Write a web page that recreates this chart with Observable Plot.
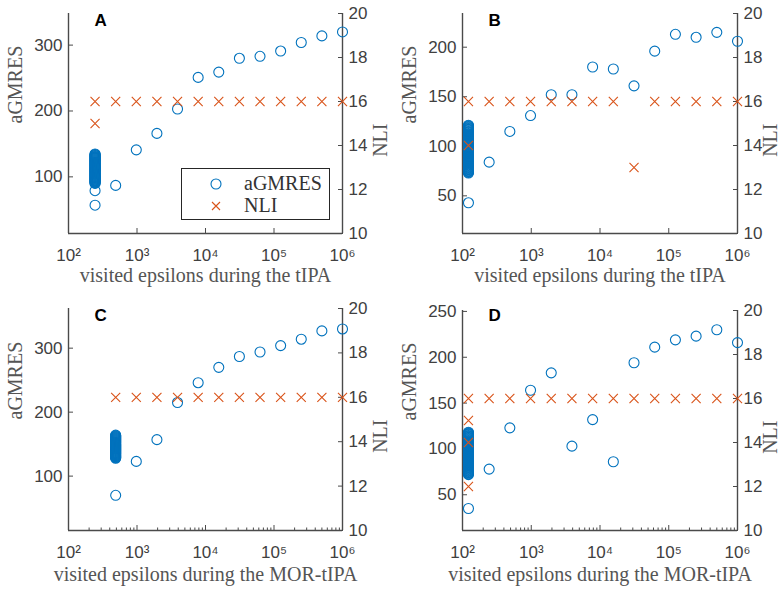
<!DOCTYPE html>
<html><head><meta charset="utf-8">
<script src="https://cdn.jsdelivr.net/npm/d3@7"></script>
<script src="https://cdn.jsdelivr.net/npm/@observablehq/plot@0.6"></script>
<style>
body{margin:0;background:#fff;}
#root{position:relative;width:780px;height:590px;overflow:hidden;background:#fff;}
.layer{position:absolute;}
.legend{position:absolute;border:1px solid #262626;background:#fff;}
</style></head><body><div id="root"></div>
<script>
// ---- data ----
const epsA = [244.140625, 488.28125, 976.5625, 1953.125, 3906.25, 7812.5, 15625, 31250, 62500, 125000, 250000, 500000, 1000000];
const clusterA = [57, 79, 90, 90.8, 91.6, 92.4, 93.2, 94, 94.8, 95.6, 96.4, 97.2, 98, 98.8, 99.6, 100.4, 101.2, 102, 102.8, 103.6, 104.4, 105.2, 106, 106.8, 107.6, 108.4, 109.2, 110, 110.8, 111.6, 112.4, 113.2, 114, 114.8, 115.6, 116.4, 117.2, 118, 118.8, 119.6, 120.4, 121.2, 122, 122.8, 123.6, 124.4, 125.2, 126, 126.8, 127.6, 128.4, 129.2, 130, 130.8, 131.6, 132.4, 133.2, 134, 134.8];
const gmresA = [87, 141, 166, 203, 251, 259, 280, 283, 291, 304, 314, 320];
const nliA = [16, 16, 16, 16, 16, 16, 16, 16, 16, 16, 16, 16, 16];
const nliExtraA = [15];

const epsB = [122.0703125, 244.140625, 488.28125, 976.5625, 1953.125, 3906.25, 7812.5, 15625, 31250, 62500, 125000, 250000, 500000, 1000000];
const clusterB = [43, 73, 73.7, 74.4, 75.1, 75.8, 76.5, 77.2, 77.9, 78.6, 79.3, 80, 80.7, 81.4, 82.1, 82.8, 83.5, 84.2, 84.9, 85.6, 86.3, 87, 87.7, 88.4, 89.1, 89.8, 90.5, 91.2, 91.9, 92.6, 93.3, 94, 94.7, 95.4, 96.1, 96.8, 97.5, 98.2, 98.9, 99.6, 100.3, 101, 101.7, 102.4, 103.1, 103.8, 104.5, 105.2, 105.9, 106.6, 107.3, 108, 108.7, 109.4, 110.1, 110.8, 111.5, 112.2, 112.9, 113.6, 114.3, 115, 115.7, 116.4, 117.1, 117.8, 118.5, 119.2, 119.9, 120.6, 121.3];
const gmresB = [84, 115, 131, 152, 152, 180, 178, 161, 196, 213, 210, 215, 206];
const nliB = [16, 16, 16, 16, 16, 16, 16, 16, 13, 16, 16, 16, 16, 16];
const nliExtraB = [14];

const epsC = [488.28125, 976.5625, 1953.125, 3906.25, 7812.5, 15625, 31250, 62500, 125000, 250000, 500000, 1000000];
const clusterC = [70, 128, 128.8, 129.6, 130.4, 131.2, 132, 132.8, 133.6, 134.4, 135.2, 136, 136.8, 137.6, 138.4, 139.2, 140, 140.8, 141.6, 142.4, 143.2, 144, 144.8, 145.6, 146.4, 147.2, 148, 148.8, 149.6, 150.4, 151.2, 152, 152.8, 153.6, 154.4, 155.2, 156, 156.8, 157.6, 158.4, 159.2, 160, 160.8, 161.6, 162.4, 163.2, 164];
const gmresC = [123, 157, 215, 246, 270, 287, 294, 304, 314, 327, 330];
const nliC = [16, 16, 16, 16, 16, 16, 16, 16, 16, 16, 16, 16];
const nliExtraC = [];

const epsD = [122.0703125, 244.140625, 488.28125, 976.5625, 1953.125, 3906.25, 7812.5, 15625, 31250, 62500, 125000, 250000, 500000, 1000000];
const clusterD = [35, 72, 72.7, 73.4, 74.1, 74.8, 75.5, 76.2, 76.9, 77.6, 78.3, 79, 79.7, 80.4, 81.1, 81.8, 82.5, 83.2, 83.9, 84.6, 85.3, 86, 86.7, 87.4, 88.1, 88.8, 89.5, 90.2, 90.9, 91.6, 92.3, 93, 93.7, 94.4, 95.1, 95.8, 96.5, 97.2, 97.9, 98.6, 99.3, 100, 100.7, 101.4, 102.1, 102.8, 103.5, 104.2, 104.9, 105.6, 106.3, 107, 107.7, 108.4, 109.1, 109.8, 110.5, 111.2, 111.9, 112.6, 113.3, 114, 114.7, 115.4, 116.1, 116.8, 117.5, 118.2];
const gmresD = [78, 123, 164, 183, 103, 132, 86, 194, 211, 219, 223, 230, 216];
const nliD = [16, 16, 16, 16, 16, 16, 16, 16, 16, 16, 16, 16, 16, 16];
const nliExtraD = [15, 14, 12];

const xTicks = [1e2, 1e3, 1e4, 1e5, 1e6];
const xTickLabels = ["10²", "10³", "10⁴", "10⁵", "10⁶"];
const nliTicks = [10, 12, 14, 16, 18, 20];

const BLUE = "#0072BD", ORANGE = "#D95319", AX = "#4a4a4a", TXT = "#404040", LAB = "#555";
const SANS = "'Liberation Sans', Arial, Helvetica, sans-serif";
const SERIF = "'Liberation Serif', 'Times New Roman', serif";

const root = document.getElementById("root");

function panel(o) {
  const g = o.cluster.map(v => ({x: o.eps[0], y: v}))
    .concat(o.gmres.map((v, i) => ({x: o.eps[i + 1], y: v})));
  const n = o.nli.map((v, i) => ({x: o.eps[i], y: v}))
    .concat(o.nliExtra.map(v => ({x: o.eps[0], y: v})));
  const minor = [];
  if (o.minor) for (let k = 2; k < 6; k++) for (let m = 2; m < 10; m++) minor.push(m * 10 ** k);
  const common = {
    width: o.w, height: o.h,
    marginLeft: o.ml, marginRight: o.mr, marginTop: o.mt, marginBottom: o.mb,
    style: {fontFamily: SANS, fontSize: "17px", color: TXT, background: "transparent", overflow: "visible"}
  };
  const left = Plot.plot({
    ...common,
    x: {type: "log", domain: [1e2, 1e6], label: null},
    y: {domain: o.yDomain, label: null},
    marks: [
      Plot.ruleY([o.yDomain[0]], {stroke: AX, strokeWidth: 1.4}),
      Plot.ruleX([1e2], {stroke: AX, strokeWidth: 1.4}),
      Plot.ruleX([1e6], {stroke: AX, strokeWidth: 1.4}),
      Plot.axisX(xTicks, {tickSize: -5, tickPadding: 20, stroke: AX, tickFormat: d => xTickLabels[Math.round(Math.log10(d)) - 2], fontSize: 17, fill: TXT}),
      o.minor ? Plot.axisX(minor, {tickSize: -2.5, text: null, stroke: AX}) : null,
      Plot.axisY(o.yTicks, {anchor: "left", tickSize: -5, tickPadding: 11, stroke: AX, fontSize: 17, fill: TXT}),
      Plot.dot(g, {x: "x", y: "y", r: 5, stroke: BLUE, strokeWidth: 1.1}),
      Plot.text([o.letter], {frameAnchor: "top-left", dx: 26, dy: o.letterDy, fontWeight: "bold", fill: "#000", fontSize: 17, fontFamily: SANS}),
      Plot.text([o.xLabel], {frameAnchor: "bottom", dy: o.xlDy, fontFamily: SERIF, fontSize: 20, fill: LAB}),
      Plot.text(["aGMRES"], {frameAnchor: "left", rotate: -90, dx: -53, fontFamily: SERIF, fontSize: 20, fill: LAB})
    ]
  });
  const right = Plot.plot({
    ...common,
    x: {type: "log", domain: [1e2, 1e6], label: null, axis: null},
    y: {domain: [10, 20], label: null},
    marks: [
      Plot.axisY(nliTicks, {anchor: "right", tickSize: -5, tickPadding: 11, stroke: AX, fontSize: 17, fill: TXT}),
      Plot.dot(n, {x: "x", y: "y", r: 4.2, symbol: "times", stroke: ORANGE, strokeWidth: 1.1}),
      Plot.text(["NLI"], {frameAnchor: "right", rotate: -90, dx: o.nliDx, fontFamily: SERIF, fontSize: 20, fill: LAB})
    ]
  });
  for (const el of [left, right]) {
    el.classList.add("layer");
    el.style.left = o.left + "px";
    el.style.top = o.top + "px";
    root.appendChild(el);
  }
}

panel({left: 0, top: 0, w: 390, h: 290, ml: 68, mr: 48, mt: 13, mb: 57, letterDy: 0, xlDy: 48, nliDx: 38,
  eps: epsA, cluster: clusterA, gmres: gmresA, nli: nliA, nliExtra: nliExtraA,
  yDomain: [14, 348], yTicks: [100, 200, 300], letter: "A", xLabel: "visited epsilons during the tIPA"});
panel({left: 390, top: 0, w: 390, h: 290, ml: 72, mr: 43, mt: 13, mb: 57, letterDy: 0, xlDy: 48, nliDx: 33,
  eps: epsB, cluster: clusterB, gmres: gmresB, nli: nliB, nliExtra: nliExtraB,
  yDomain: [12, 234], yTicks: [50, 100, 150, 200], letter: "B", xLabel: "visited epsilons during the tIPA"});
panel({left: 0, top: 290, w: 390, h: 300, ml: 68, mr: 48, mt: 18, mb: 60, letterDy: 0, xlDy: 50, nliDx: 38, minor: true,
  eps: epsC, cluster: clusterC, gmres: gmresC, nli: nliC, nliExtra: nliExtraC,
  yDomain: [15, 362], yTicks: [100, 200, 300], letter: "C", xLabel: "visited epsilons during the MOR-tIPA"});
panel({left: 390, top: 290, w: 390, h: 300, ml: 72, mr: 43, mt: 20, mb: 60, letterDy: -2, xlDy: 50, nliDx: 33, minor: true,
  eps: epsD, cluster: clusterD, gmres: gmresD, nli: nliD, nliExtra: nliExtraD,
  yDomain: [11, 251], yTicks: [50, 100, 150, 200, 250], letter: "D", xLabel: "visited epsilons during the MOR-tIPA"});

// legend of panel A
const leg = document.createElement("div");
leg.className = "legend";
leg.style.left = "181px"; leg.style.top = "168px"; leg.style.width = "147px"; leg.style.height = "50px";
leg.innerHTML = `<svg width="147" height="50" style="position:absolute;left:0;top:0">
<circle cx="34" cy="15" r="5" fill="none" stroke="${BLUE}" stroke-width="1.1"/>
<path d="M30,33L38,41M38,33L30,41" stroke="${ORANGE}" stroke-width="1.1"/>
<text x="62" y="21" font-family="${SERIF}" font-size="20" fill="#333">aGMRES</text>
<text x="62" y="43" font-family="${SERIF}" font-size="20" fill="#333">NLI</text></svg>`;
root.appendChild(leg);
</script></body></html>
